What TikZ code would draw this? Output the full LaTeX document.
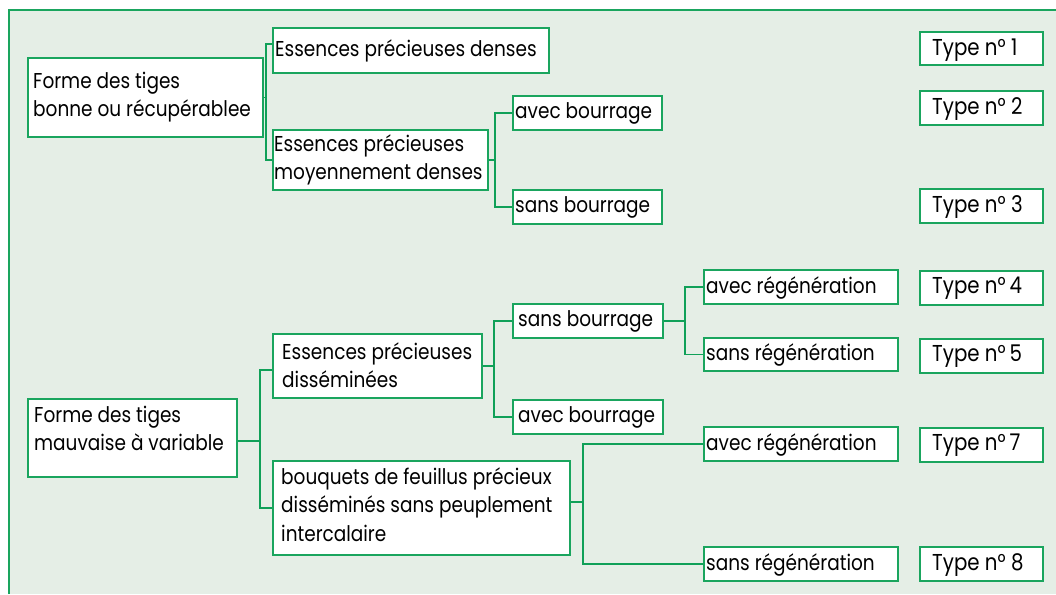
\documentclass[tikz,border=0pt]{standalone}
\usepackage{fontspec}
\setmainfont[FakeStretch=0.86]{Poppins}
\usetikzlibrary{calc}
\definecolor{bgc}{RGB}{229,238,230}
\definecolor{grn}{RGB}{16,160,88}
\definecolor{bgrn}{RGB}{26,165,94}
\tikzset{
  gbox/.style={draw=bgrn, line width=1.8pt, fill=white, rectangle, inner sep=0pt, anchor=north west},
  txt/.style={anchor=north west, inner sep=0pt, align=left, font=\fontsize{21.5}{28.5}\selectfont},
  ttxt/.style={txt, font=\fontsize{23}{28.5}\selectfont},
  conn/.style={draw=grn, line width=1.8pt},
}
\newcommand{\fs}{\rule{0pt}{22pt}}
\newcommand{\bx}[5]{%
  \node[gbox, minimum width=#4-#2, minimum height=#5-#3] (#1) at (#2,#3) {};}
\begin{document}
\begin{tikzpicture}[x=1pt,y=-1pt]
\useasboundingbox (0,0) rectangle (1056,594);
\fill[bgc] (9,10) rectangle (1056,594);
\draw[bgrn, line width=1.6pt] (9,594) -- (9,10) -- (1056,10);
% boxes
\bx{A1}{27}{57}{262}{136}
\bx{B1}{272}{27}{548}{72}
\bx{B2}{272}{129}{487}{189}
\bx{C1}{512}{95}{661}{129}
\bx{C2}{512}{189}{661}{223}
\bx{T1}{919}{31}{1042}{64}
\bx{T2}{919}{90}{1042}{124}
\bx{T3}{919}{188}{1042}{222}
\bx{A2}{27}{398}{236}{476}
\bx{B3}{272}{333}{481}{397}
\bx{C3}{512}{303}{662}{337}
\bx{C4}{512}{399}{662}{433}
\bx{D1}{703}{269}{897}{303}
\bx{D2}{703}{337}{897}{370}
\bx{T4}{919}{270}{1042}{304}
\bx{T5}{919}{338}{1042}{372}
\bx{B4}{272}{460}{569}{554}
\bx{D3}{703}{426}{897}{460}
\bx{D4}{703}{546}{897}{580}
\bx{T7}{919}{427}{1042}{461}
\bx{T8}{919}{546}{1042}{580}
% texts (first baseline = offset + 22)
\node[txt] at ($(A1.north west)+(6,9)$) {\fs Forme des tiges\\bonne ou récupérablee};
\node[txt] at ($(B1.north west)+(3,7)$) {\fs Essences précieuses denses};
\node[txt] at ($(B2.north west)+(2,0)$) {\fs Essences précieuses\\moyennement denses};
\node[txt] at ($(C1.north west)+(3,1)$) {\fs avec bourrage};
\node[txt] at ($(C2.north west)+(3,1)$) {\fs sans bourrage};
\node[ttxt] at ($(T1.north west)+(13,2)$) {\fs Type n° 1};
\node[ttxt] at ($(T2.north west)+(13,2)$) {\fs Type n° 2};
\node[ttxt] at ($(T3.north west)+(13,2)$) {\fs Type n° 3};
\node[txt] at ($(A2.north west)+(7,2)$) {\fs Forme des tiges\\mauvaise à variable};
\node[txt] at ($(B3.north west)+(10,4)$) {\fs Essences précieuses\\disséminées};
\node[txt] at ($(C3.north west)+(6,1)$) {\fs sans bourrage};
\node[txt] at ($(C4.north west)+(6,1)$) {\fs avec bourrage};
\node[txt] at ($(D1.north west)+(3,2)$) {\fs avec régénération};
\node[txt] at ($(D2.north west)+(3,1)$) {\fs sans régénération};
\node[ttxt] at ($(T4.north west)+(13,1)$) {\fs Type n°\,4};
\node[ttxt] at ($(T5.north west)+(13,1)$) {\fs Type n°\,5};
\node[txt] at ($(B4.north west)+(9,2)$) {\fs bouquets de feuillus précieux\\disséminés sans peuplement\\intercalaire};
\node[txt] at ($(D3.north west)+(3,2)$) {\fs avec régénération};
\node[txt] at ($(D4.north west)+(3,2)$) {\fs sans régénération};
\node[ttxt] at ($(T7.north west)+(13,1)$) {\fs Type n°\,7};
\node[ttxt] at ($(T8.north west)+(13,2)$) {\fs Type n° 8};
% connectors
\draw[conn] (A1.east) -- ++(2,0) coordinate (jA1);
\draw[conn] (jA1) |- ($(B1.west)+(0,-6.5)$);
\draw[conn] (jA1) |- (B2.west);
\draw[conn] (B2.east) -- ++(6,0) coordinate (jB2);
\draw[conn] (jB2) |- (C1.west);
\draw[conn] (jB2) |- (C2.west);
\draw[conn] ($(A2.east)+(0,3)$) -- ++(22,0) coordinate (jA2);
\draw[conn] (jA2) |- ($(B3.west)+(0,4)$);
\draw[conn] (jA2) |- (B4.west);
\draw[conn] (B3.east) -- ++(11,0) coordinate (jB3);
\draw[conn] (jB3) |- (C3.west);
\draw[conn] (jB3) |- (C4.west);
\draw[conn] (C3.east) -- ++(21,0) coordinate (jC3);
\draw[conn] (jC3) |- (D1.west);
\draw[conn] (jC3) |- (D2.west);
\draw[conn] ($(B4.east)+(0,-6)$) -- ++(12,0) coordinate (jB4);
\draw[conn] (jB4) |- (D3.west);
\draw[conn] (jB4) |- (D4.west);
\end{tikzpicture}
\end{document}
